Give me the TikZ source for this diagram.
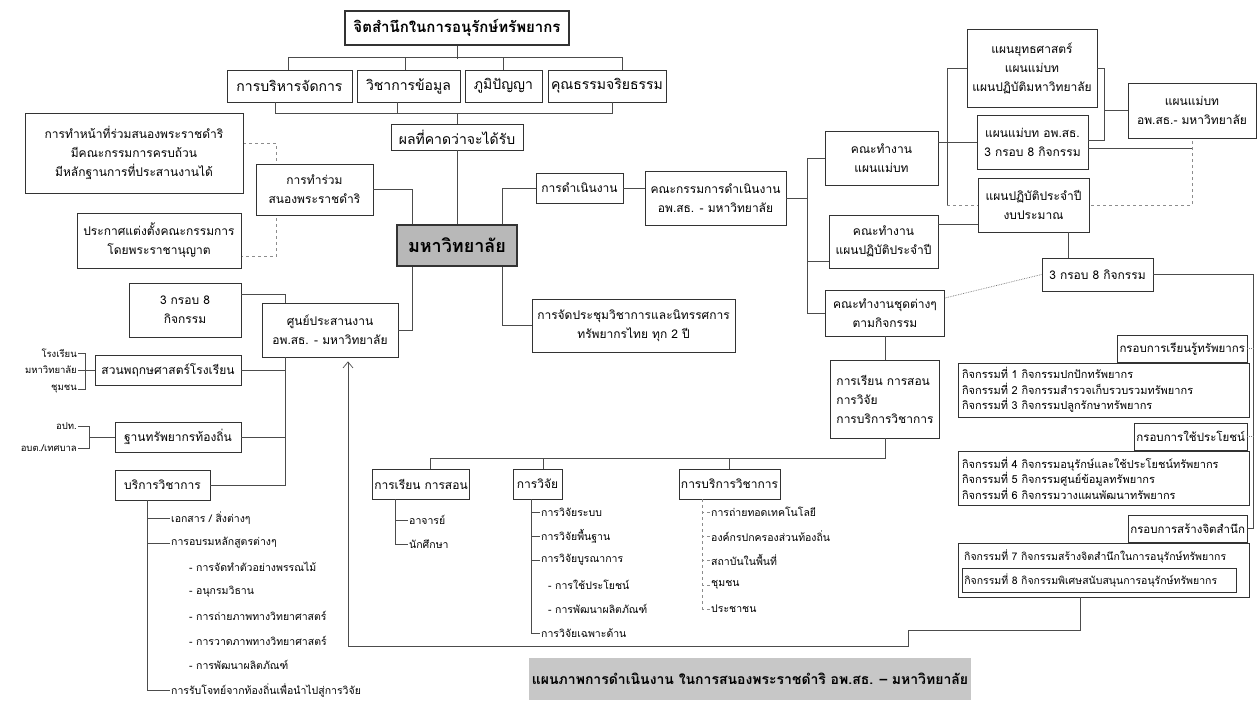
\documentclass[tikz,border=0pt]{standalone}
\usepackage{fontspec}
\setmainfont[Script=Thai]{Loma}
\usepackage{tikz}
\usetikzlibrary{positioning,arrows.meta,backgrounds}

\tikzset{
  box/.style={draw=black!80, line width=0.8pt, fill=white, align=center,
    inner sep=2pt, font=\fontsize{14}{18}\selectfont},
  sbox/.style={box, font=\fontsize{12}{19}\selectfont},
  tabbox/.style={box, font=\fontsize{11.5}{13}\selectfont},
  headbox/.style={box, line width=1.1pt, font=\fontsize{15}{18}\selectfont\bfseries},
  unibox/.style={box, fill=black!28, line width=1.5pt, font=\fontsize{18}{20}\selectfont\bfseries},
  actbox/.style={draw=black!80, line width=0.8pt, fill=white, align=left,
    inner sep=4pt, text width=283pt, font=\fontsize{11}{15.5}\selectfont},
  item/.style={anchor=west, inner sep=1pt, font=\fontsize{10.5}{12}\selectfont},
  lbl/.style={anchor=east, inner sep=1pt, font=\fontsize{9.5}{10}\selectfont},
  link/.style={draw=black!70, line width=0.7pt},
  faint/.style={link, draw=black!45, dashed},
  dotlink/.style={link, draw=black!55, densely dotted},
}

\begin{document}
\begin{tikzpicture}[x=1pt,y=-1pt]
    \useasboundingbox (0,0) rectangle (1258,702);

    % top part
    \node[headbox, minimum width=224pt, minimum height=34pt] (jit) at (457,28) {จิตสำนึกในการอนุรักษ์ทรัพยากร};
    \node[box, minimum width=125pt, minimum height=32pt] (mBorihan) at (289.5,86) {การบริหารจัดการ};
    \node[box, minimum width=103pt, minimum height=32pt] (mWichakan) at (408.5,86) {วิชาการข้อมูล};
    \node[box, minimum width=77pt, minimum height=32pt] (mPhumi) at (503.5,86) {ภูมิปัญญา};
    \node[box, minimum width=118pt, minimum height=32pt] (mKhun) at (607,86) {คุณธรรมจริยธรรม};
    \node[box, minimum width=132pt, minimum height=26pt] (phon) at (457,137) {ผลที่คาดว่าจะได้รับ};
    \node[unibox, minimum width=120pt, minimum height=41pt] (uni) at (457,245.5) {มหาวิทยาลัย};

    \draw[link] (jit.south) -- ++(0,13);
    \draw[link] ([xshift=-1.5pt]mBorihan.north) -- ++(0,-12) -| ([xshift=15pt]mKhun.north);
    \draw[link] ([xshift=-3.5pt]mWichakan.north) -- ++(0,-12);
    \draw[link] (mPhumi.north) -- ++(0,-12);
    \draw[link] ([xshift=-14.5pt]mBorihan.south) -- ++(0,11) -| ([xshift=5pt]mKhun.south);
    \draw[link] ([xshift=-11.5pt]mWichakan.south) -- ++(0,11);
    \draw[link] (phon.north) -- ++(0,-11);
    \draw[link] (phon) -- (uni);

    % left of the university
    \node[sbox, minimum width=117pt, minimum height=51pt] (ruam) at (314.5,189.5) {การทำร่วม\\สนองพระราชดำริ};
    \node[sbox, minimum width=218pt, minimum height=80pt] (nathi) at (134,153) {การทำหน้าที่ร่วมสนองพระราชดำริ\\มีคณะกรรมการครบถ้วน\\มีหลักฐานการที่ประสานงานได้};
    \node[sbox, minimum width=164pt, minimum height=55pt] (prakat) at (159,240.5) {ประกาศแต่งตั้งคณะกรรมการ\\โดยพระราชานุญาต};
    \begin{pgfonlayer}{background}
    \draw[faint] ([yshift=10pt]nathi.east) -- ++(33,0) |- ([yshift=-16pt]prakat.east);
    \end{pgfonlayer}
    \draw[link] ([xshift=16pt]uni.north west) |- (ruam.east);

    \node[sbox, minimum width=136pt, minimum height=54pt] (sun) at (330,330) {ศูนย์ประสานงาน\\อพ.สธ. - มหาวิทยาลัย};
    \node[sbox, minimum width=112pt, minimum height=54pt] (k38L) at (185,310) {3 กรอบ 8\\กิจกรรม};
    \node[sbox, minimum width=146pt, minimum height=30pt] (suan) at (168,370) {สวนพฤกษศาสตร์โรงเรียน};
    \node[sbox, minimum width=126pt, minimum height=30pt] (than) at (178,437) {ฐานทรัพยากรท้องถิ่น};
    \node[sbox, minimum width=95pt, minimum height=30pt] (borikan) at (162.5,485) {บริการวิชาการ};
    \draw[link] ([xshift=16pt]uni.south west) |- (sun.east);
    \coordinate (sunT) at ([xshift=-45pt]sun.south);
    \draw[link] ([yshift=16pt]k38L.east) -| ([xshift=-45pt]sun.north);
    \draw[link] (sunT) |- (borikan.east);
    \draw[link] (suan.east) -- (suan.east -| sunT);
    \draw[link] (than.east) -- (than.east -| sunT);

    \node[lbl] (lRong) at (78,353) {โรงเรียน};
    \node[lbl] (lMaha) at (78,370) {มหาวิทยาลัย};
    \node[lbl] (lChum) at (78,389) {ชุมชน};
    \draw[link] (lRong.east) -| ([xshift=-9pt]suan.west) |- (lChum.east);
    \draw[link] (lMaha.east) -- (suan.west);
    \node[lbl] (lOpt) at (78,426) {อปท.};
    \node[lbl] (lObt) at (78,448) {อบต./เทศบาล};
    \draw[link] (lOpt.east) -| ([xshift=-25pt]than.west) |- (lObt.east);
    \draw[link] (than.west) -- ++(-25,0);

    \coordinate (borT) at ([xshift=-15.5pt]borikan.south);
    \node[item] (b1) at (170,518) {เอกสาร / สิ่งต่างๆ};
    \node[item] (b2) at (170,543) {การอบรมหลักสูตรต่างๆ};
    \node[item] (b3) at (188,567) {- การจัดทำตัวอย่างพรรณไม้};
    \node[item] (b4) at (188,592) {- อนุกรมวิธาน};
    \node[item] (b5) at (188,616) {- การถ่ายภาพทางวิทยาศาสตร์};
    \node[item] (b6) at (188,641) {- การวาดภาพทางวิทยาศาสตร์};
    \node[item] (b7) at (188,665) {- การพัฒนาผลิตภัณฑ์};
    \node[item] (b8) at (170,690) {การรับโจทย์จากท้องถิ่นเพื่อนำไปสู่การวิจัย};
    \draw[link] (borT) |- (b8.west);
    \draw[link] (b1.west) -- (b1.west -| borT);
    \draw[link] (b2.west) -- (b2.west -| borT);

    % right of the university
    \node[sbox, minimum width=87pt, minimum height=30pt] (daen) at (579.5,188) {การดำเนินงาน};
    \node[sbox, minimum width=141pt, minimum height=54pt] (kkd) at (715.5,198) {คณะกรรมการดำเนินงาน\\อพ.สธ. - มหาวิทยาลัย};
    \node[sbox, minimum width=203pt, minimum height=53pt] (jat) at (633.5,325.5) {การจัดประชุมวิชาการและนิทรรศการ\\ทรัพยากรไทย ทุก 2 ปี};
    \draw[link] ([xshift=-15pt]uni.north east) |- (daen.west);
    \draw[link] ([xshift=-15pt]uni.south east) |- (jat.west);
    \draw[link] (daen.east) -- (daen.east -| kkd.west);

    \node[sbox, minimum width=113pt, minimum height=54pt] (tWaen) at (881.5,158) {คณะทำงาน\\แผนแม่บท};
    \node[sbox, minimum width=109pt, minimum height=53pt] (tPati) at (883.5,241.5) {คณะทำงาน\\แผนปฏิบัติประจำปี};
    \node[sbox, minimum width=119pt, minimum height=46pt] (tChut) at (885,313) {คณะทำงานชุดต่างๆ\\ตามกิจกรรม};
    \node[sbox, minimum width=109pt, minimum height=78pt, align=left] (rsb) at (885,399) {การเรียน การสอน\\การวิจัย\\การบริการวิชาการ};
    \coordinate (jR) at (807,198);
    \draw[link] (kkd.east) -- (jR);
    \draw[link] (tWaen.west) -| (jR) |- (tChut.west);
    \draw[link] ([yshift=-20pt]tPati.west) -- ([yshift=-20pt]tPati.west -| jR);
    \draw[link] (tChut) -- (rsb);

    \node[sbox, minimum width=130pt, minimum height=78pt] (pYut) at (1032,68) {แผนยุทธศาสตร์\\แผนแม่บท\\แผนปฏิบัติมหาวิทยาลัย};
    \node[sbox, minimum width=111pt, minimum height=54pt] (pWaen) at (1032.5,142) {แผนแม่บท อพ.สธ.\\3 กรอบ 8 กิจกรรม};
    \node[sbox, minimum width=111pt, minimum height=54pt] (pPati) at (1033.5,205) {แผนปฏิบัติประจำปี\\งบประมาณ};
    \node[sbox, minimum width=128pt, minimum height=55pt] (pWaenU) at (1192,110.5) {แผนแม่บท\\อพ.สธ.- มหาวิทยาลัย};
    \coordinate (jP) at (947,205);
    \begin{pgfonlayer}{background}
    \draw[link] (pYut.west) -| (jP);
    \draw[faint] (jP) -- (jP -| pWaenU.south) -- (pWaenU.south);
    \end{pgfonlayer}
    \draw[link] (tWaen.east |- pWaen.west) -- (pWaen.west);
    \draw[link] ([yshift=-6pt]pWaen.east) -- ([yshift=-6pt]pWaen.east -| pWaenU.south);
    \coordinate (jB) at ([xshift=7pt]pYut.east);
    \draw[link] (pYut.east) -- (jB) |- ([yshift=2pt]pWaen.east);
    \draw[link] (pWaenU.west) -- (pWaenU.west -| jB);
    \draw[link] ([yshift=-19pt]pPati.west) -- ([yshift=-19pt]pPati.west -| tPati.east);

    \node[sbox, minimum width=111pt, minimum height=33pt] (k38) at (1097.5,274.5) {3 กรอบ 8 กิจกรรม};
    \draw[link] ([xshift=34.5pt]pPati.south) -- ([xshift=34.5pt]pPati.south |- k38.north);
    \draw[dotlink] ([yshift=15pt]tChut.east) -- (k38.west);

    % three frames, eight activities
    \node[actbox, minimum height=54pt] (act1) at (1103.5,390) {กิจกรรมที่ 1 กิจกรรมปกปักทรัพยากร\\กิจกรรมที่ 2 กิจกรรมสำรวจเก็บรวบรวมทรัพยากร\\กิจกรรมที่ 3 กิจกรรมปลูกรักษาทรัพยากร};
    \node[tabbox, anchor=south east, minimum height=27pt] (g1) at ([xshift=-2pt]act1.north east) {กรอบการเรียนรู้ทรัพยากร};
    \node[actbox, minimum height=54pt] (act2) at (1103.5,478) {กิจกรรมที่ 4 กิจกรรมอนุรักษ์และใช้ประโยชน์ทรัพยากร\\กิจกรรมที่ 5 กิจกรรมศูนย์ข้อมูลทรัพยากร\\กิจกรรมที่ 6 กิจกรรมวางแผนพัฒนาทรัพยากร};
    \node[tabbox, anchor=south east, minimum height=27pt] (g2) at ([xshift=-2pt]act2.north east) {กรอบการใช้ประโยชน์};
    \node[actbox, minimum height=54pt] (act3) at (1103.5,570) {};
    \node[tabbox, anchor=south east, minimum height=27pt] (g3) at ([xshift=-2pt]act3.north east) {กรอบการสร้างจิตสำนึก};
    \node[item] (a7) at (963,556) {กิจกรรมที่ 7 กิจกรรมสร้างจิตสำนึกในการอนุรักษ์ทรัพยากร};
    \node[item, draw=black!80, line width=0.7pt, text width=270pt, align=left, minimum height=24pt, inner sep=2pt]
        (a8) at (962,580) {กิจกรรมที่ 8 กิจกรรมพิเศษสนับสนุนการอนุรักษ์ทรัพยากร};
    \draw[link] (k38.east) -| ([xshift=6pt]g3.east) -- (g3.east);
    \draw[dotlink] (g1.east) -- ++(6,0);
    \draw[dotlink] (g2.east) -- ++(6,0);

    % bottom boxes
    \node[sbox, minimum width=84pt, minimum height=30pt] (rian) at (421,484) {การเรียน การสอน};
    \node[sbox, minimum width=49pt, minimum height=30pt] (wijai) at (537.5,484) {การวิจัย};
    \node[sbox, minimum width=101pt, minimum height=30pt] (borwi) at (729.5,484) {การบริการวิชาการ};
    \draw[link] (rsb.south) -- ++(0,20) -| ([xshift=9pt]rian.north);
    \draw[link] ([xshift=5.5pt]wijai.north) -- ++(0,-11);
    \draw[link] (borwi.north) -- ++(0,-11);

    \coordinate (rianT) at ([xshift=23pt]rian.south west);
    \node[item] (r1) at (408,520) {อาจารย์};
    \node[item] (r2) at (408,544) {นักศึกษา};
    \draw[link] (rianT) |- (r2.west);
    \draw[link] (r1.west) -- (r1.west -| rianT);

    \coordinate (wijaiT) at ([xshift=19pt]wijai.south west);
    \node[item] (w1) at (540,512) {การวิจัยระบบ};
    \node[item] (w2) at (540,536) {การวิจัยพื้นฐาน};
    \node[item] (w3) at (540,560) {การวิจัยบูรณาการ};
    \node[item] (w4) at (547,585) {- การใช้ประโยชน์};
    \node[item] (w5) at (547,609) {- การพัฒนาผลิตภัณฑ์};
    \node[item] (w6) at (540,633) {การวิจัยเฉพาะด้าน};
    \draw[link] (wijaiT) |- (w6.west);
    \draw[link] (w1.west) -- (w1.west -| wijaiT);
    \draw[link] (w2.west) -- (w2.west -| wijaiT);
    \draw[link] (w3.west) -- (w3.west -| wijaiT);

    \coordinate (borwiT) at ([xshift=24pt]borwi.south west);
    \node[item] (v1) at (710,512) {การถ่ายทอดเทคโนโลยี};
    \node[item] (v2) at (710,536) {องค์กรปกครองส่วนท้องถิ่น};
    \node[item] (v3) at (710,560) {สถาบันในพื้นที่};
    \node[item] (v4) at (710,585) {ชุมชน};
    \node[item] (v5) at (710,609) {ประชาชน};
    \draw[faint] (borwiT) |- (v5.west);
    \foreach \v in {v1,v2,v3,v4}
        \draw[faint] (\v.west) -- (\v.west -| borwiT);

    % feedback to the coordination centre
    \draw[link, -{Straight Barb[length=6pt,width=10pt]}, shorten >=4pt]
        ([xshift=-23.5pt]act3.south) -- ++(0,33) -- ++(-172,0) -- ++(0,16) -| ([xshift=18pt]sun.south);

    \node[fill=black!22, minimum width=426pt, minimum height=42pt,
        font=\fontsize{14}{18}\selectfont\bfseries] (title) at (750,679)
        {แผนภาพการดำเนินงาน ในการสนองพระราชดำริ อพ.สธ. – มหาวิทยาลัย};
\end{tikzpicture}
\end{document}
